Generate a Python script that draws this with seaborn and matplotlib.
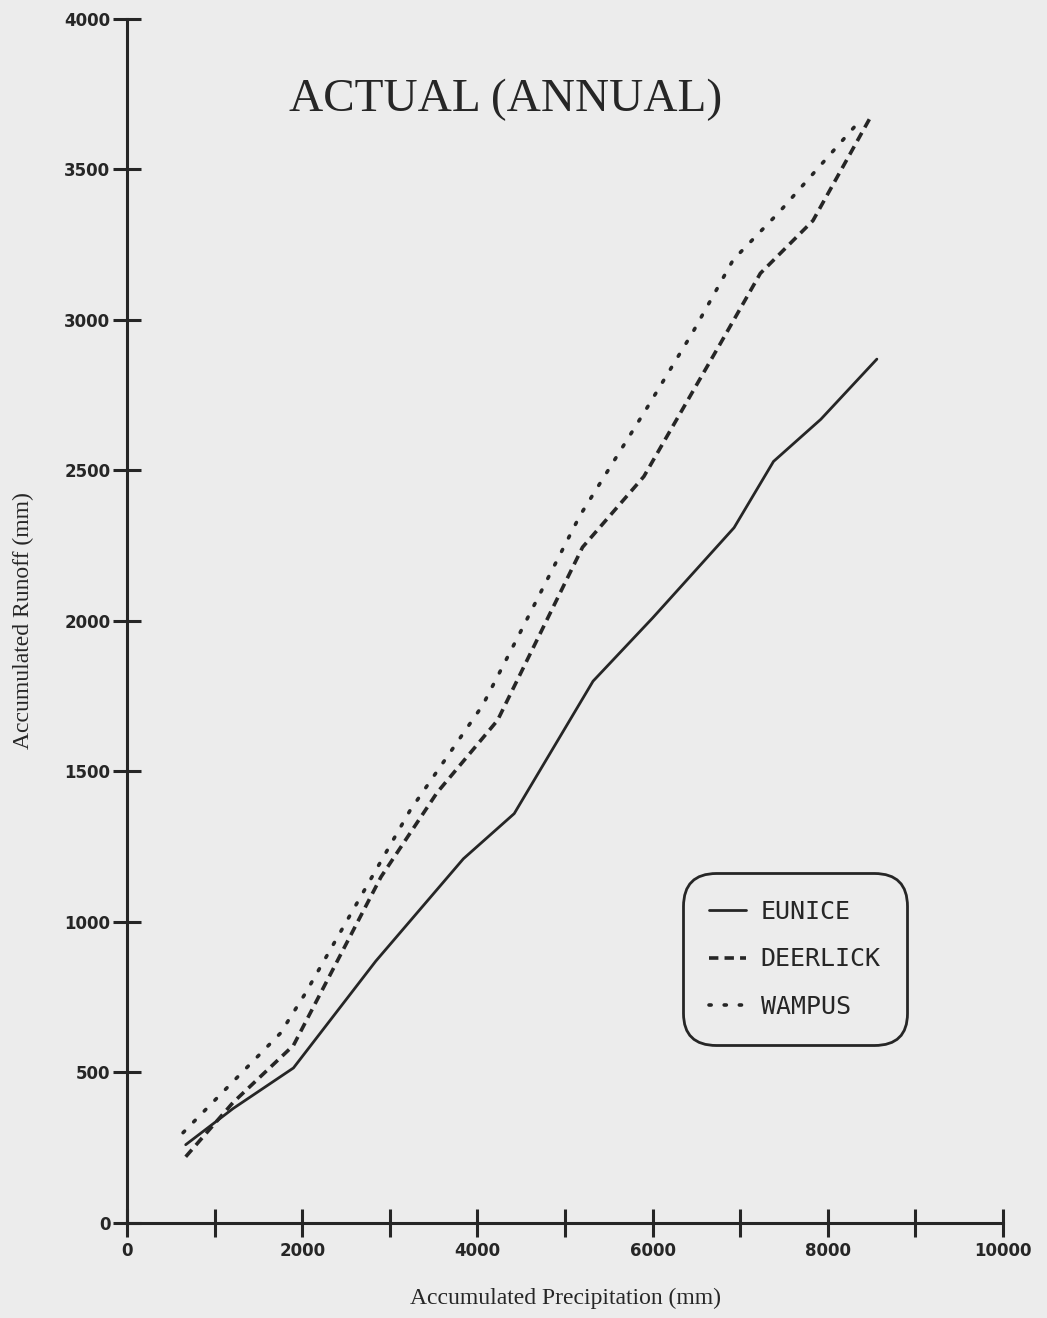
import numpy as np
import pandas as pd
import matplotlib
matplotlib.use("Agg")
import matplotlib.pyplot as plt
import seaborn as sns

# Accumulated precipitation (mm) vs accumulated runoff (mm) per watershed
eunice_precip = [670, 1210, 1900, 2840, 3840, 4420, 5320, 6000, 6930, 7380, 7920, 8560]
eunice_runoff = [260, 380, 515, 870, 1210, 1360, 1800, 2010, 2310, 2530, 2670, 2870]

deerlick_precip = [670, 1210, 1900, 2900, 3540, 4230, 5200, 5900, 6770, 7230, 7830, 8480]
deerlick_runoff = [220, 400, 590, 1150, 1430, 1670, 2245, 2480, 2920, 3155, 3330, 3670]

wampus_precip = [640, 1750, 2030, 3230, 4060, 4450, 5170, 5940, 6460, 6920, 7450, 8390]
wampus_runoff = [300, 630, 760, 1370, 1720, 1940, 2350, 2710, 2960, 3200, 3360, 3670]

series_names = ["EUNICE", "DEERLICK", "WAMPUS"]
x_ticks = [0, 2000, 4000, 6000, 8000, 10000]
y_ticks = [0, 500, 1000, 1500, 2000, 2500, 3000, 3500, 4000]

frames = []
for name, px, ro in zip(series_names,
                        [eunice_precip, deerlick_precip, wampus_precip],
                        [eunice_runoff, deerlick_runoff, wampus_runoff]):
    frames.append(pd.DataFrame({"precip": px, "runoff": ro, "site": name}))
df = pd.concat(frames, ignore_index=True)

sns.set_theme(style="white")
bg = "#ececec"
ink = "#262626"

fig = plt.figure(figsize=(10.47, 13.18), dpi=100, facecolor=bg)
ax = fig.add_axes([0.1213, 0.0721, 0.8367, 0.9135])
ax.set_facecolor(bg)

styles = {
    "EUNICE": dict(linestyle="-", linewidth=2.0),
    "DEERLICK": dict(linestyle=(0, (2.6, 1.7)), linewidth=2.6),
    "WAMPUS": dict(linestyle=(0, (0.6, 3.6)), linewidth=2.6, dash_capstyle="round"),
}
for name in series_names:
    sub = df[df["site"] == name]
    sns.lineplot(data=sub, x="precip", y="runoff", ax=ax, color=ink,
                 sort=False, estimator=None, label=name, **styles[name])

ax.set_xlim(0, 10000)
ax.set_ylim(0, 4000)
ax.margins(0)

for side in ["top", "right"]:
    ax.spines[side].set_visible(False)
for side in ["left", "bottom"]:
    ax.spines[side].set_color(ink)
    ax.spines[side].set_linewidth(2.2)

ax.set_xticks(np.arange(0, 10001, 1000))
ax.set_xticklabels([f"{v}" if v in x_ticks else "" for v in range(0, 10001, 1000)])
ax.set_yticks(y_ticks)
ax.set_yticklabels([str(v) for v in y_ticks])
ax.tick_params(axis="both", which="major", bottom=True, left=True,
               direction="inout", length=20, width=2.2, color=ink,
               labelsize=12, labelcolor=ink)
ax.tick_params(axis="x", pad=4)
ax.tick_params(axis="y", pad=2)
for lab in ax.get_xticklabels() + ax.get_yticklabels():
    lab.set_fontweight("bold")
    lab.set_family("DejaVu Sans")

ax.set_xlabel("Accumulated Precipitation (mm)", family="Liberation Serif",
              fontsize=17, color=ink, labelpad=20)
ax.set_ylabel("Accumulated Runoff (mm)", family="Liberation Serif",
              fontsize=17, color=ink, labelpad=22)

ax.text(0.432, 0.933, "ACTUAL (ANNUAL)", transform=ax.transAxes,
        family="Liberation Serif", fontsize=34, color=ink, ha="center", va="center")

leg = ax.legend(loc="center", bbox_to_anchor=(0.7625, 0.219),
                frameon=True, fancybox=True, handlelength=1.45,
                handletextpad=0.6, labelspacing=0.95, borderpad=1.05,
                borderaxespad=0,
                prop={"family": "DejaVu Sans Mono", "size": 18})
frame = leg.get_frame()
frame.set_edgecolor(ink)
frame.set_linewidth(2.0)
frame.set_facecolor(bg)
frame.set_alpha(1)
frame.set_boxstyle("round", pad=0.0, rounding_size=1.3)
for t in leg.get_texts():
    t.set_color(ink)

fig.savefig("out.png", dpi=100, facecolor=bg)
